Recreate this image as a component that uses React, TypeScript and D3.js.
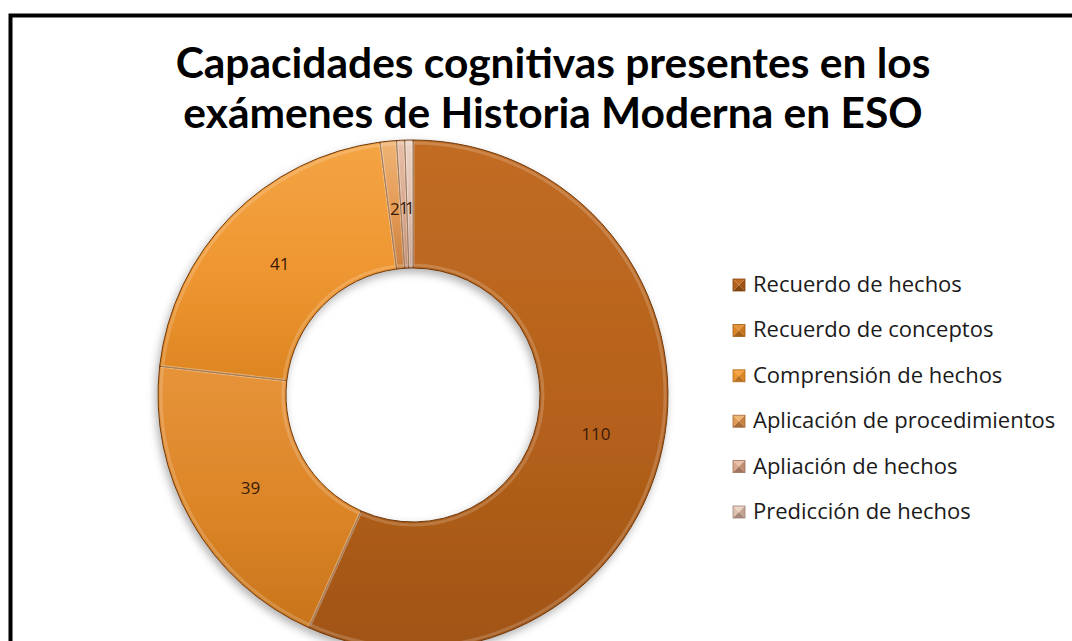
import React, { useRef, useEffect } from "react";
import * as d3 from "d3";

// slice order: clockwise from 12 o'clock
const categories = [
  "Recuerdo de hechos",
  "Recuerdo de conceptos",
  "Comprensión de hechos",
  "Aplicación de procedimientos",
  "Apliación de hechos",
  "Predicción de hechos",
];
const values = [110, 39, 41, 2, 1, 1];
const titleLines = [
  "Capacidades cognitivas presentes en los",
  "exámenes de Historia Moderna en ESO",
];
// [light, base, dark] per slice
const sliceColors = [
  ["#c16c24", "#b5611b", "#a05414"],
  ["#e6933a", "#dc8527", "#c8741c"],
  ["#f4a444", "#ee9631", "#dd8522"],
  ["#f0b474", "#e39a55", "#c98040"],
  ["#e8c0a8", "#d9a88c", "#c08c70"],
  ["#ecd4c6", "#dfbfae", "#c6a290"],
];

const W = 1072;
const H = 641;

const App = () => {
  const svgRef = useRef(null);

  useEffect(() => {
    const svg = d3.select(svgRef.current);
    svg.selectAll("*").remove();

    const defs = svg.append("defs");
    const shadow = defs.append("filter").attr("id", "shadow")
      .attr("x", "-20%").attr("y", "-20%").attr("width", "140%").attr("height", "140%");
    shadow.append("feDropShadow")
      .attr("dx", -2).attr("dy", 4).attr("stdDeviation", 4)
      .attr("flood-color", "#000").attr("flood-opacity", 0.3);

    sliceColors.forEach((c, i) => {
      const g = defs.append("linearGradient").attr("id", `g${i}`)
        .attr("x1", 0).attr("y1", 0).attr("x2", 0).attr("y2", 1);
      g.append("stop").attr("offset", "0%").attr("stop-color", c[0]);
      g.append("stop").attr("offset", "55%").attr("stop-color", c[1]);
      g.append("stop").attr("offset", "100%").attr("stop-color", c[2]);
    });

    // frame (right/bottom run off the picture)
    svg.append("rect")
      .attr("x", 10.5).attr("y", 15.5)
      .attr("width", W + 20).attr("height", H + 20)
      .attr("fill", "#fff").attr("stroke", "#000").attr("stroke-width", 4);

    // title
    const title = svg.append("text")
      .attr("text-anchor", "middle")
      .attr("font-family", "Lato, 'Open Sans', sans-serif")
      .attr("font-weight", "bold")
      .attr("font-size", 42.5)
      .attr("fill", "#000");
    titleLines.forEach((t, i) => {
      title.append("tspan").attr("x", 553).attr("y", 78 + i * 50).text(t);
    });

    // donut
    const cx = 413, cy = 395, outerR = 255, innerR = 127;
    const pie = d3.pie().value((d) => d).sort(null);
    const arcs = pie(values);
    const arc = d3.arc().innerRadius(innerR).outerRadius(outerR);
    const bevel = d3.arc().innerRadius(innerR + 3).outerRadius(outerR - 3);

    const chart = svg.append("g").attr("transform", `translate(${cx},${cy})`);
    const donut = chart.append("g").attr("filter", "url(#shadow)");
    donut.selectAll("path.slice")
      .data(arcs)
      .enter()
      .append("path")
      .attr("class", "slice")
      .attr("d", arc)
      .attr("fill", (d, i) => `url(#g${i})`)
      .attr("stroke", "#6e3a10")
      .attr("stroke-width", 1);

    // soft bevel highlight
    chart.selectAll("path.bevel")
      .data(arcs)
      .enter()
      .append("path")
      .attr("class", "bevel")
      .attr("d", bevel)
      .attr("fill", "none")
      .attr("stroke", "#fff")
      .attr("stroke-opacity", 0.18)
      .attr("stroke-width", 3);

    // labels
    const labelArc = d3.arc().innerRadius(187).outerRadius(187);
    chart.selectAll("text.lbl")
      .data(arcs)
      .enter()
      .append("text")
      .attr("class", "lbl")
      .attr("x", (d) => labelArc.centroid(d)[0])
      .attr("y", (d) => labelArc.centroid(d)[1] + 6)
      .attr("text-anchor", "middle")
      .attr("font-family", "'Open Sans', sans-serif")
      .attr("font-size", 17)
      .attr("fill", "#3a1a08")
      .text((d) => d.data);

    // legend
    const legendY = d3.scalePoint().domain(categories).range([285, 512]);
    const legend = svg.append("g");
    categories.forEach((c, i) => {
      const y = legendY(c);
      const x0 = 733, s = 12, y0 = y - 6;
      const col = sliceColors[i];
      const mid = [x0 + s / 2, y0 + s / 2];
      const tri = (pts) => legend.append("path")
        .attr("d", "M" + pts.map((p) => p.join(",")).join("L") + "Z");
      tri([[x0, y0], [x0 + s, y0], mid]).attr("fill", col[0]);
      tri([[x0, y0], [x0, y0 + s], mid]).attr("fill", col[1]);
      tri([[x0 + s, y0], [x0 + s, y0 + s], mid]).attr("fill", col[2]);
      tri([[x0, y0 + s], [x0 + s, y0 + s], mid]).attr("fill", d3.color(col[2]).darker(0.5));
      legend.append("rect").attr("x", x0).attr("y", y0).attr("width", s).attr("height", s)
        .attr("fill", "none").attr("stroke", d3.color(col[2]).darker(0.6)).attr("stroke-width", 0.8);
      legend.append("text")
        .attr("x", 753).attr("y", y + 7)
        .attr("font-family", "'Open Sans', sans-serif")
        .attr("font-size", 22)
        .attr("fill", "#1a1a1a")
        .text(c);
    });
  }, []);

  return (
    <svg
      ref={svgRef}
      width={W}
      height={H}
      style={{ position: "absolute", left: 0, top: 0, background: "#fff" }}
    ></svg>
  );
};

export default App;
